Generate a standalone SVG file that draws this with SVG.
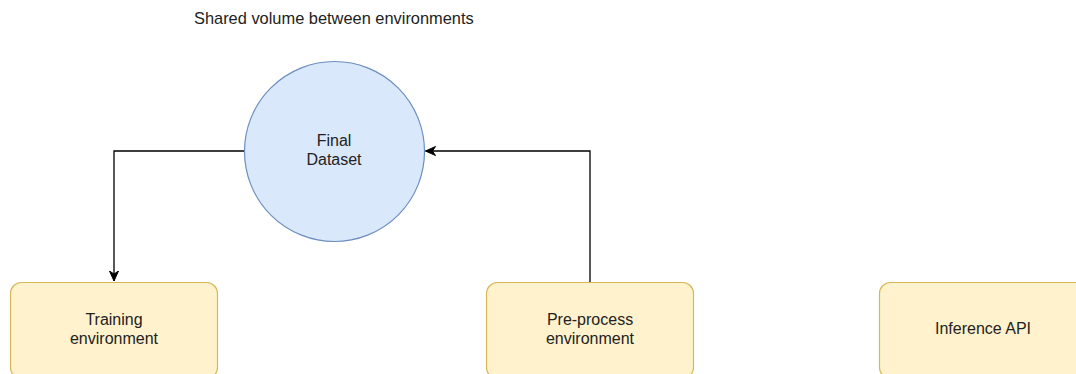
<svg xmlns="http://www.w3.org/2000/svg" width="1076" height="374" viewBox="0 0 1076 374">
  <style>
    .bg { fill: #ffffff; }
    .env { fill: #fff2cc; stroke: #d6b656; stroke-width: 1.2; }
    .store { fill: #dae8fc; stroke: #6c8ebf; stroke-width: 1.2; }
    .label { font-family: "Liberation Sans", Arial, sans-serif; font-size: 16px; fill: #222222; text-anchor: middle; }
    .title { font-family: "Liberation Sans", Arial, sans-serif; font-size: 16.4px; fill: #222222; }
    .edge { fill: none; stroke: #000000; stroke-width: 1.3; }
  </style>
  <defs>
    <marker id="arrow" markerUnits="userSpaceOnUse" markerWidth="12" markerHeight="10" refX="10" refY="4.5" orient="auto" viewBox="0 0 12 10">
      <path d="M0,0 L10,4.5 L0,9 L3,4.5 Z" fill="#000000" stroke="#000000" stroke-width="1"/>
    </marker>
  </defs>

  <rect class="bg" x="0" y="0" width="1076" height="374"/>

  <text class="title" x="194" y="24">Shared volume between environments</text>

  <!-- connectors -->
  <g id="connectors">
    <path id="edge-dataset-training" class="edge" d="M244.5,151 L114,151 L114,281" marker-end="url(#arrow)"/>
    <path id="edge-preprocess-dataset" class="edge" d="M590,282 L590,151 L425.5,151" marker-end="url(#arrow)"/>
  </g>

  <!-- shared dataset volume -->
  <g id="final-dataset">
    <circle class="store" cx="334.5" cy="151.5" r="90"/>
    <text class="label" x="334" y="146">Final</text>
    <text class="label" x="334" y="165">Dataset</text>
  </g>

  <!-- environments -->
  <g id="training-environment">
    <rect class="env" x="10.5" y="282.5" width="207" height="96" rx="11" ry="11"/>
    <text class="label" x="114" y="325">Training</text>
    <text class="label" x="114" y="344">environment</text>
  </g>

  <g id="preprocess-environment">
    <rect class="env" x="486.5" y="282.5" width="207" height="96" rx="11" ry="11"/>
    <text class="label" x="590" y="325">Pre-process</text>
    <text class="label" x="590" y="344">environment</text>
  </g>

  <g id="inference-api">
    <rect class="env" x="879.5" y="282.5" width="207" height="96" rx="11" ry="11"/>
    <text class="label" x="983" y="334">Inference API</text>
  </g>
</svg>
